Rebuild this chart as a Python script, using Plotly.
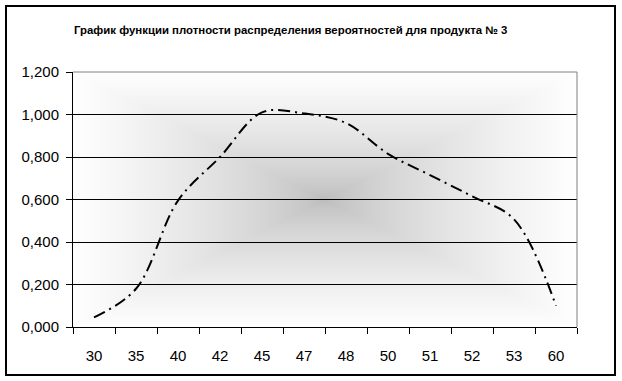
import base64, struct, zlib
import numpy as np
import plotly.graph_objects as go

# ---- data ----
categories = ["30", "35", "40", "42", "45", "47", "48", "50", "51", "52", "53", "60"]
density = [0.045, 0.18, 0.595, 0.80, 1.01, 1.005, 0.96, 0.815, 0.715, 0.615, 0.507, 0.10]
y_ticks = [0.0, 0.2, 0.4, 0.6, 0.8, 1.0, 1.2]
title_text = "График функции плотности распределения вероятностей для продукта № 3"

# ---- layout geometry (pixels) ----
W, H = 622, 381
L, R, T, B = 73, 577, 72, 327
pw, ph = R - L, B - T


def px_x(p):
    return (p - L) / pw


def px_y(p):
    return (B - p) / ph


# ---- "from center" gradient background as PNG ----
def gradient_png(w, h, c_center=188, c_edge=255, gamma=0.7):
    xs = (np.arange(w) + 0.5) / w - 0.5
    ys = (np.arange(h) + 0.5) / h - 0.5
    X, Y = np.meshgrid(xs, ys)
    t = np.maximum(np.abs(X) / 0.5, np.abs(Y) / 0.5)
    t = np.clip(t, 0, 1) ** gamma
    img = (c_center + (c_edge - c_center) * t).astype(np.uint8)
    raw = b"".join(b"\x00" + img[r].tobytes() for r in range(h))

    def chunk(tag, data):
        c = struct.pack(">I", len(data)) + tag + data
        return c + struct.pack(">I", zlib.crc32(tag + data) & 0xFFFFFFFF)

    png = b"\x89PNG\r\n\x1a\n"
    png += chunk(b"IHDR", struct.pack(">IIBBBBB", w, h, 8, 0, 0, 0, 0))
    png += chunk(b"IDAT", zlib.compress(raw, 9))
    png += chunk(b"IEND", b"")
    return "data:image/png;base64," + base64.b64encode(png).decode()


fig = go.Figure()
fig.add_trace(go.Scatter(
    x=categories, y=density, mode="lines",
    line=dict(color="black", width=2, dash="12px,5px,2px,5px", shape="spline", smoothing=1.0),
    hoverinfo="skip", showlegend=False,
))

font_family = "Liberation Sans, Arial, sans-serif"
fig.update_layout(
    width=W, height=H,
    margin=dict(l=L, r=W - R, t=T, b=H - B),
    paper_bgcolor="white",
    plot_bgcolor="rgba(0,0,0,0)",
    separators=", ",
    showlegend=False,
    font=dict(family=font_family, size=15, color="black"),
    xaxis=dict(
        type="category", tickson="boundaries", showgrid=False,
        showline=True, linecolor="black", linewidth=1,
        ticks="outside", ticklen=6, tickcolor="black", tickwidth=1,
        ticklabelstandoff=15, range=[-0.5, len(categories) - 0.5],
        tickfont=dict(family=font_family, size=15, color="black"),
    ),
    yaxis=dict(
        range=[0, 1.2], tickvals=y_ticks, tickformat=".3f",
        showgrid=True, gridcolor="black", gridwidth=1, zeroline=False,
        showline=True, linecolor="black", linewidth=1,
        ticks="outside", ticklen=6, tickcolor="black", tickwidth=1,
        ticklabelstandoff=4,
        tickfont=dict(family=font_family, size=15, color="black"),
    ),
    images=[dict(
        source=gradient_png(pw, ph), xref="paper", yref="paper",
        x=0, y=1, sizex=1, sizey=1, sizing="stretch", layer="below",
        xanchor="left", yanchor="top",
    )],
    shapes=[
        dict(type="line", xref="paper", yref="paper", x0=0, x1=1, y0=1, y1=1,
             line=dict(color="#808080", width=1)),
        dict(type="line", xref="paper", yref="paper", x0=1, x1=1, y0=0, y1=1,
             line=dict(color="#808080", width=1)),
        dict(type="rect", xref="paper", yref="paper",
             x0=px_x(6), x1=px_x(615), y0=px_y(375), y1=px_y(6),
             line=dict(color="black", width=2), fillcolor="rgba(0,0,0,0)"),
    ],
    annotations=[dict(
        text="<b>" + title_text + "</b>", xref="paper", yref="paper",
        x=px_x(290), y=px_y(30), xanchor="center", yanchor="middle",
        showarrow=False, font=dict(family=font_family, size=11.4, color="black"),
    )],
)

fig.write_html("out.html", config={"displayModeBar": False},
               post_script="document.body.style.margin='0';")
